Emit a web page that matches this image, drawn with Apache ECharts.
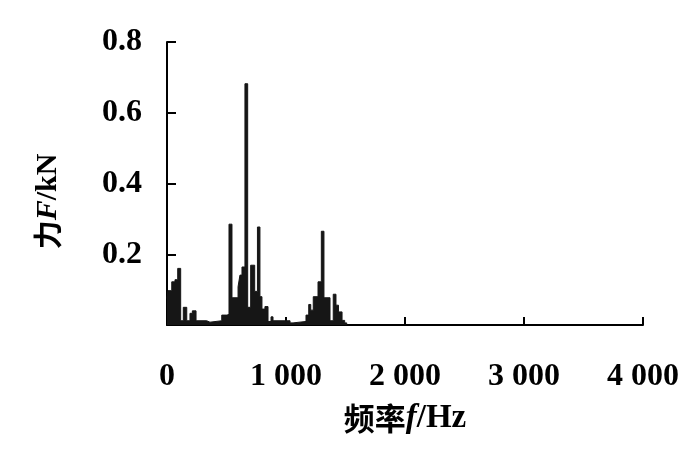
<!DOCTYPE html>
<html>
<head>
<meta charset="utf-8">
<script src="https://cdn.jsdelivr.net/npm/echarts@6/dist/echarts.min.js"></script>
<style>
  html, body { margin: 0; padding: 0; background: #fff; }
  #chart { width: 700px; height: 462px; }
</style>
</head>
<body>
<div id="chart"></div>
<script>
// Spectrum bins: start frequency of each bin (Hz) and its force amplitude (kN)
var binStartHz = [0, 8, 40, 67, 90, 115, 137, 166, 193, 213, 244, 334, 361, 460, 504, 521, 546,
  597, 613, 630, 655, 678, 703, 737, 760, 781, 798, 823, 849, 874, 891, 1034, 1059, 1168, 1191,
  1208, 1229, 1269, 1297, 1319, 1370, 1397, 1420, 1441, 1471, 1493, 1510];
var forceKN = [0.075, 0.097, 0.122, 0.128, 0.160, 0.012, 0.050, 0.012, 0.033, 0.040, 0.012, 0.008,
  0.012, 0.028, 0.030, 0.285, 0.077, 0.108, 0.141, 0.164, 0.682, 0.050, 0.169, 0.095, 0.277, 0.080,
  0.045, 0.052, 0.010, 0.023, 0.012, 0.006, 0.010, 0.028, 0.058, 0.042, 0.080, 0.122, 0.265, 0.077,
  0.012, 0.087, 0.056, 0.037, 0.013, 0.006, 0];

var xTicks = [0, 1000, 2000, 3000, 4000];
var xTickLabels = ['0', '1 000', '2 000', '3 000', '4 000'];
var yTicks = [0, 0.2, 0.4, 0.6, 0.8];
var yTickLabels = ['', '0.2', '0.4', '0.6', '0.8'];

var seriesData = binStartHz.map(function (f, i) { return [f, forceKN[i]]; });

var serif = 'Liberation Serif, Times New Roman, serif';
var cjk = 'Noto Sans CJK SC';

var chart = echarts.init(document.getElementById('chart'), null, { renderer: 'canvas' });
chart.setOption({
  animation: false,
  backgroundColor: '#ffffff',
  grid: { left: 167, right: 57, top: 42, bottom: 137, containLabel: false },
  xAxis: {
    type: 'value',
    min: xTicks[0],
    max: xTicks[xTicks.length - 1],
    interval: 1000,
    name: '{a|频率}{b|f}{c|/Hz}',
    nameLocation: 'middle',
    nameGap: 77,
    nameTextStyle: {
      rich: {
        a: { fontFamily: cjk, fontSize: 31, fontWeight: 'bold', color: '#000' },
        b: { fontFamily: serif, fontSize: 33, fontWeight: 'bold', fontStyle: 'italic', color: '#000' },
        c: { fontFamily: serif, fontSize: 33, fontWeight: 'bold', color: '#000' }
      }
    },
    axisLine: { show: true, onZero: false, lineStyle: { color: '#000', width: 2 } },
    axisTick: { show: true, inside: true, length: 8, lineStyle: { color: '#000', width: 2 } },
    splitLine: { show: false },
    axisLabel: {
      margin: 36,
      fontFamily: serif, fontSize: 32, fontWeight: 'bold', color: '#000',
      formatter: function (v) {
        var i = xTicks.indexOf(v);
        return i >= 0 ? xTickLabels[i] : '';
      }
    }
  },
  yAxis: {
    type: 'value',
    min: yTicks[0],
    max: yTicks[yTicks.length - 1],
    interval: 0.2,
    name: '{a|力}{b|F}{c|/kN}',
    nameLocation: 'middle',
    nameGap: 104,
    nameTextStyle: {
      padding: [0, 36, 0, 0],
      rich: {
        a: { fontFamily: cjk, fontSize: 29, fontWeight: 'bold', color: '#000' },
        b: { fontFamily: serif, fontSize: 30, fontWeight: 'bold', fontStyle: 'italic', color: '#000' },
        c: { fontFamily: serif, fontSize: 30, fontWeight: 'bold', color: '#000' }
      }
    },
    axisLine: { show: true, lineStyle: { color: '#000', width: 2 } },
    axisTick: { show: true, inside: true, length: 9, lineStyle: { color: '#000', width: 2 } },
    splitLine: { show: false },
    axisLabel: {
      margin: 25,
      padding: [12, 0, 0, 0],
      fontFamily: serif, fontSize: 32, fontWeight: 'bold', color: '#000',
      formatter: function (v) {
        for (var i = 0; i < yTicks.length; i++) {
          if (Math.abs(yTicks[i] - v) < 1e-9) return yTickLabels[i];
        }
        return '';
      }
    }
  },
  series: [{
    type: 'line',
    step: 'end',
    data: seriesData,
    symbol: 'none',
    lineStyle: { color: '#161616', width: 1 },
    areaStyle: { color: '#161616', opacity: 1, origin: 'start' },
    z: 1
  }]
});
</script>
</body>
</html>
